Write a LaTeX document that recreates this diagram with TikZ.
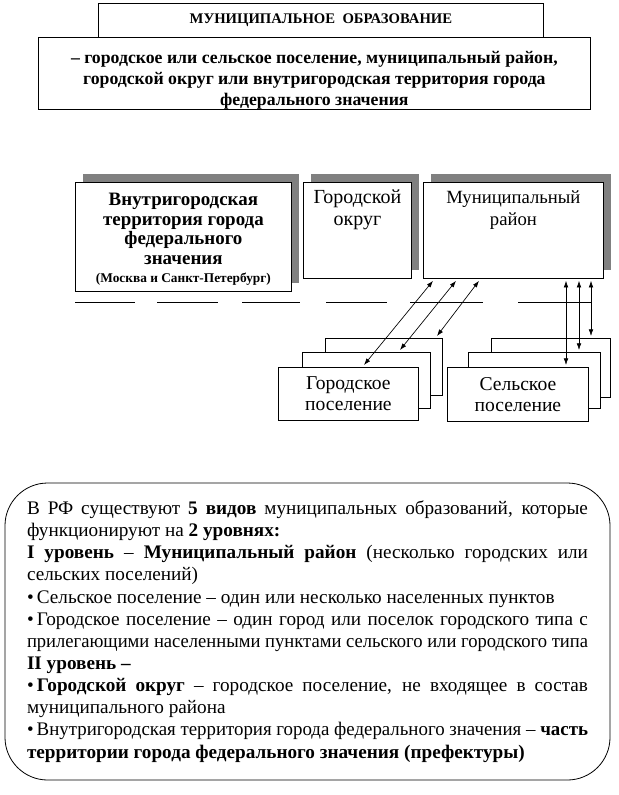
\documentclass[tikz,border=0pt]{standalone}
\usepackage{fontspec}
\setmainfont{Liberation Serif}
\usetikzlibrary{positioning,calc,shadows,arrows.meta}
\newsavebox\rowbox
\newlength\rowwidth
\setlength\rowwidth{420.75pt}
\newcommand\fitline[1]{\leavevmode\sbox\rowbox{\spaceskip=0pt\xspaceskip=0pt #1}%
  \ifdim\wd\rowbox>\rowwidth\resizebox{\rowwidth}{\height}{\usebox\rowbox}%
  \else\hbox to\rowwidth{\spaceskip=0pt\xspaceskip=0pt #1}\fi}

\begin{document}
\begin{tikzpicture}[x=0.75pt, y=-0.75pt,
    frame/.style={draw, line width=0.6pt, fill=white, inner sep=0pt, anchor=north west},
    shadowed/.style={frame, drop shadow={shadow xshift=6pt, shadow yshift=6pt, fill=black!50, opacity=1}},
    caption/.style={align=center, inner sep=0pt, anchor=north, font=\fontsize{15}{16.5}\selectfont},
    link/.style={{Latex[length=5pt,width=3.5pt]}-{Latex[length=5pt,width=3.5pt]}, line width=0.5pt},
    rule/.style={line width=0.6pt},
]
    \useasboundingbox (0,0) rectangle (618,795);
    % Definition block
    \node[frame, minimum width=333.75pt, minimum height=25.5pt, font=\bfseries\fontsize{11}{13}\selectfont] (title) at (98,3) {МУНИЦИПАЛЬНОЕ\ \ ОБРАЗОВАНИЕ};
    \node[frame, minimum width=414pt, minimum height=54pt] (defn) at (38,37) {};
    \node[caption, font=\bfseries\fontsize{13.3}{15.9}\selectfont, below=10.5pt of defn.north] (defnT)
        {– городское или сельское поселение, муниципальный район,\\ городской округ или внутригородская территория города\\ федерального значения};
    % Kinds of municipalities
    \node[shadowed, minimum width=162pt, minimum height=81.75pt] (federal) at (75,182) {};
    \node[caption, font=\bfseries\fontsize{14.2}{14.8}\selectfont, below=8pt of federal.north] (federalT)
        {Внутригородская\\территория города\\федерального\\значения\\[-1.3pt]{\fontsize{10}{12}\selectfont (Москва и Санкт-Петербург)}};
    \node[shadowed, minimum width=81pt, minimum height=72pt] (okrug) at (303,182) {};
    \node[caption, below=6pt of okrug.north] (okrugT) {Городской\\округ};
    \node[shadowed, minimum width=135pt, minimum height=72pt] (rayon) at (423,182) {};
    \node[caption, font=\fontsize{14}{16.5}\selectfont, below=6pt of rayon.north] (rayonT) {Муниципальный\\район};
    % Separators
    \foreach \a/\b in {75/135, 157/218, 242/300, 326/387, 410/483, 518/592}
        \draw[rule] (\a,302) -- (\b,302);
    % Settlement stacks
    \node[frame, minimum width=87.75pt, minimum height=42.75pt] (gorC) at (325,338) {};
    \node[frame, minimum width=96pt, minimum height=42pt] (gorB) at (302,352) {};
    \node[frame, minimum width=105pt, minimum height=39.75pt, align=center,
          font=\fontsize{14.7}{15.75}\selectfont] (gorA) at (278,367) {Городское\\поселение};
    \node[frame, minimum width=89.25pt, minimum height=44.25pt] (selC) at (491,338) {};
    \node[frame, minimum width=99pt, minimum height=42pt] (selB) at (468,352) {};
    \node[frame, minimum width=105.75pt, minimum height=40.5pt, align=center,
          font=\fontsize{14.7}{15.75}\selectfont] (selA) at (447,367) {Сельское\\поселение};
    % Links
    \draw[link] ($(rayon.south west)+(10,2)$) -- ($(gorA.north west)+(86,-2)$);
    \draw[link] ($(rayon.south west)+(33,2)$) -- ($(gorB.north west)+(98,-2)$);
    \draw[link] ($(rayon.south west)+(56,2)$) -- ($(gorC.north west)+(112,-2)$);
    \draw[link] ($(rayon.south west)+(143,2)$) -- ($(selA.north west)+(119,-2)$);
    \draw[link] ($(rayon.south west)+(156,2)$) -- ($(selB.north west)+(111,-2)$);
    \draw[link] ($(rayon.south west)+(168,2)$) -- ($(selC.north west)+(100,-2)$);
    % Summary
    \node[draw, line width=0.6pt, rounded corners=32pt, minimum width=453.75pt, minimum height=222.75pt,
          inner xsep=16.5pt, text width=420.75pt, align=left,
          font=\fontsize{14.4}{16.6}\selectfont] (summary) at (307.5,631.5)
        {\spaceskip=0pt\xspaceskip=0pt
         \fitline{В РФ существуют \textbf{5 видов} муниципальных образований, которые}\\
         функционируют на \textbf{2 уровнях:}\\
         \fitline{\textbf{I уровень} – \textbf{Муниципальный район} (несколько городских или}\\
         сельских поселений)\\
         •\,Сельское поселение – один или несколько населенных пунктов\\
         \fitline{•\,Городское поселение – один город или поселок городского типа с}\\
         \fitline{прилегающими населенными пунктами сельского или городского типа}\\
         \textbf{II уровень –}\\
         \fitline{•\,\textbf{Городской округ} – городское поселение, не входящее в состав}\\
         муниципального района\\
         \fitline{•\,Внутригородская территория города федерального значения – \textbf{часть}}\\
         \textbf{территории города федерального значения (префектуры)}};
\end{tikzpicture}
\end{document}
